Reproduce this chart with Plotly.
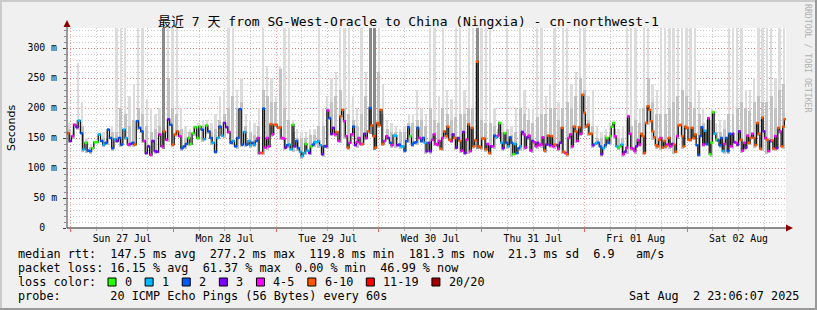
import numpy as np
import pandas as pd
import plotly.graph_objects as go

# ---------------- data ----------------
START = "2025-07-26 23:06:07"
END = "2025-08-02 23:06:07"
# the week is read in four consecutive stretches
SEG_BOUNDS = ["2025-07-26 23:06:07", "2025-07-28 17:24:00",
              "2025-07-30 11:27:00", "2025-08-01 05:30:00", "2025-08-02 23:06:07"]

MEDIAN_A = [158, 145, 153, 172, 168, 179, 158, 131, 142, 129,
            128, 133, 143, 143, 156, 145, 139, 142, 164, 150,
            133, 148, 145, 150, 139, 164, 150, 139, 140, 142,
            139, 178, 167, 161, 145, 125, 136, 122, 145, 128,
            127, 156, 136, 161, 147, 181, 172, 139, 156, 161,
            153, 133, 136, 140, 150, 140, 158, 168, 150, 169,
            164, 148, 171, 161, 150, 142, 127, 150, 169, 154,
            175, 168, 160, 142, 145, 136, 150, 198, 139, 160,
            139]
LOSS_A = "opmmpcbcgb" "bgggcbcbbb" "bcpbbccmpb" "obbbmppmpp" "pmmompbooo" \
         "mbbbgggggg" "bcgbbcbcbc" "ppmbcbbbbc" "b"

MEDIAN_B = [145, 138, 142, 139, 145, 150, 125, 125, 199, 134,
            150, 136, 173, 156, 172, 172, 167, 168, 150, 149,
            134, 138, 139, 131, 172, 136, 145, 133, 127, 119.8,
            125, 140, 129, 125, 136, 139, 143, 143, 145, 138,
            123, 136, 136, 196, 183, 157, 167, 156, 160, 145,
            186, 197, 178, 153, 134, 142, 156, 169, 138, 143,
            150, 140, 140, 157, 150, 161, 200, 171, 153, 134,
            175, 171, 197, 140, 145, 153, 150, 142, 138, 154,
            154, 138, 139, 136, 136, 129, 145, 168, 153, 139,
            142, 143, 167, 150, 145, 150, 142, 128]
LOSS_B = "ccbcbmmobm" "mmomoooomm" "pbccgpbbcc" "cgcpgbcccc" "pbpmbppmom" \
         "oommommbpm" "mmopmobooo" "oooommpbmc" "cpbccbbbgb" "bbbmbbcp"

MEDIAN_C = [142, 128, 147, 156, 140, 139, 145, 132, 150, 161,
            153, 169, 147, 145, 156, 150, 134, 150, 145, 129,
            160, 125, 147, 173, 128, 167, 136, 146, 277.2, 136,
            134, 149, 149, 131, 140, 125, 136, 136, 154, 151,
            154, 175, 142, 133, 158, 142, 136, 151, 142, 123,
            140, 125, 133, 136, 160, 156, 134, 151, 154, 129,
            145, 143, 136, 142, 138, 139, 151, 129, 139, 154,
            138, 153, 136, 139, 138, 132, 142, 167, 127, 125,
            123, 150, 156, 136, 169, 161, 145, 168, 157, 222,
            192, 169, 172, 157, 157, 138, 140, 142, 142, 136,
            123, 133, 138, 150]
LOSS_C = "ppmmmmmomo" "ooompoppom" "ppmomooooo" "oooomopmbc" "mgcpgbcbbg" \
         "cbbcpmmpmm" "pmmpmmmopo" "pomopmpoom" "ommmoomomo" "ooooopccbb" "pcbg"

MEDIAN_D = [142, 153, 169, 175, 153, 136, 134, 136, 139, 123,
            127, 134, 186, 157, 133, 132, 128, 136, 146, 139,
            157, 153, 125, 175, 203, 197, 178, 161, 151, 138,
            136, 147, 150, 134, 145, 136, 139, 150, 136, 140,
            139, 127, 153, 171, 172, 153, 136, 169, 167, 147,
            147, 167, 150, 156, 138, 122, 153, 168, 139, 162,
            140, 183, 123, 142, 193, 157, 147, 146, 138, 150,
            128, 140, 150, 128, 157, 136, 157, 143, 142, 139,
            161, 147, 129, 142, 134, 154, 142, 150, 157, 150,
            138, 175, 157, 132, 184, 161, 150, 147, 128, 145,
            146, 132, 153, 133, 167, 161, 136, 169, 181.3]
LOSS_D = "bgggmcggcm" "pmmmmmmpmm" "oooooooooo" "oomooomomp" "oomooooooo" \
         "oooobbbbmc" "bmgggcgbbb" "cmbbbmppmp" "pommpmoomo" "ooooopmomp" "oompomooo"

# smoke: hourly upper extent of the light smoke and of the darker smoke (ms)
SMOKE_HI_A = [175, 175, 275, 210, 150, 140, 140, 150, 160, 155, 170, 340, 340, 340, 220, 240, 340, 340, 215, 200, 190,
              200, 340, 340, 340, 340, 200, 170, 165, 170, 175, 180, 180, 175, 190, 220, 230, 340, 340, 230, 250, 190]
SMOKE_MID_A = [165, 160, 180, 170, 145, 135, 135, 145, 150, 150, 160, 160, 200, 190, 170, 180, 200, 190, 170, 160, 165,
               170, 340, 250, 200, 190, 165, 150, 160, 160, 165, 170, 170, 160, 165, 180, 190, 200, 220, 200, 210, 170]
SMOKE_HI_B = [180, 175, 200, 340, 270, 250, 220, 270, 340, 340, 180, 165, 160, 160, 165, 165, 340, 200, 220, 250, 260,
              340, 340, 340, 220, 200, 340, 260, 340, 340, 340, 240, 180, 175, 170, 165, 170, 190, 190, 230, 200, 190]
SMOKE_MID_B = [160, 155, 170, 230, 220, 210, 210, 265, 200, 180, 160, 150, 150, 150, 155, 155, 170, 170, 200, 210, 220,
               230, 200, 190, 180, 170, 190, 220, 340, 340, 260, 190, 165, 160, 160, 160, 160, 175, 175, 180, 180, 170]
SMOKE_HI_C = [340, 340, 220, 340, 230, 215, 340, 340, 230, 340, 340, 340, 340, 340, 340, 200, 180, 175, 340, 170, 200,
              340, 230, 200, 200, 340, 340, 220, 240, 340, 210, 340, 340, 240, 260, 340, 340, 220, 230, 170, 160, 165]
SMOKE_MID_C = [200, 180, 175, 200, 190, 180, 185, 190, 190, 200, 200, 340, 180, 175, 175, 170, 165, 160, 165, 155, 160,
               200, 190, 180, 175, 185, 190, 190, 200, 200, 180, 200, 210, 200, 220, 250, 230, 180, 170, 150, 150, 155]
SMOKE_HI_D = [175, 180, 165, 170, 340, 340, 340, 200, 340, 340, 240, 230, 340, 340, 340, 340, 340, 340, 340, 340, 340,
              230, 200, 180, 200, 175, 180, 180, 340, 340, 340, 340, 230, 230, 250, 340, 340, 340, 340, 250, 340, 340]
SMOKE_MID_D = [160, 165, 150, 150, 180, 170, 180, 175, 200, 250, 210, 190, 190, 190, 200, 210, 220, 230, 220, 210, 200,
               190, 175, 165, 180, 160, 160, 165, 190, 190, 200, 210, 200, 195, 210, 220, 210, 210, 220, 200, 230, 240]

LOSS_COLORS = {"g": "#26ff00", "c": "#00b8ff", "b": "#0059ff", "p": "#7e00ff",
               "m": "#ff00ff", "o": "#ff5500", "r": "#ff0000", "d": "#a10000"}
LEGEND_ITEMS = [("0", "g"), ("1", "c"), ("2", "b"), ("3", "p"), ("4-5", "m"),
                ("6-10", "o"), ("11-19", "r"), ("20/20", "d")]

Y_TICKS = [0, 50, 100, 150, 200, 250, 300]
Y_TICKTEXT = ["0\u00a0\u00a0", "50 m", "100 m", "150 m", "200 m", "250 m", "300 m"]
Y_MAX = 333.33

TITLE = "最近 7 天 from SG-West-Oracle to China (Ningxia) - cn-northwest-1"
LEGEND_LINES = [
    "median rtt:  147.5 ms avg  277.2 ms max  119.8 ms min  181.3 ms now  21.3 ms sd  6.9   am/s",
    "packet loss: 16.15 % avg  61.37 % max  0.00 % min  46.99 % now",
    "loss color:",
    "probe:       20 ICMP Echo Pings (56 Bytes) every 60s",
]
STAMP = "Sat Aug  2 23:06:07 2025"
SIDE_TEXT = "RRDTOOL / TOBI OETIKER"

# ---------------- geometry helpers ----------------
W, H = 817, 310
PL, PR, PT, PB = 67, 786, 28, 228


def px(x):
    return (x - PL) / (PR - PL)


def py(y):
    return (PB - y) / (PB - PT)


def nb(s):
    return s.replace(" ", "\u00a0")


MONO = "DejaVu Sans Mono, Noto Sans CJK SC, monospace"

segments = [
    (MEDIAN_A, LOSS_A, SMOKE_HI_A, SMOKE_MID_A),
    (MEDIAN_B, LOSS_B, SMOKE_HI_B, SMOKE_MID_B),
    (MEDIAN_C, LOSS_C, SMOKE_HI_C, SMOKE_MID_C),
    (MEDIAN_D, LOSS_D, SMOKE_HI_D, SMOKE_MID_D),
]

t_all, y_all, c_all, mid_t_all = [], [], [], []
bar_x, bar_w, bar_base, bar_hi, bar_mid = [], [], [], [], []
for i, (med, loss, hi, mid) in enumerate(segments):
    t0 = pd.Timestamp(SEG_BOUNDS[i])
    t1 = pd.Timestamp(SEG_BOUNDS[i + 1])
    n = min(len(med), len(loss))
    step = (t1 - t0) / n
    times = [t0 + step * k for k in range(n)]
    t_all += times
    y_all += list(med[:n])
    c_all += list(loss[:n])
    mid_t_all += [t + step / 2 for t in times]
    hstep = (t1 - t0) / len(hi)
    for k in range(len(hi)):
        a = t0 + hstep * k
        b = a + hstep
        vals = [v for t, v in zip(times, med) if a <= t + step / 2 < b]
        if not vals:
            j = int(np.argmin([abs((t - a).total_seconds()) for t in times]))
            vals = [med[j]]
        base = min(vals) - 4
        bar_x.append(a + hstep / 2)
        bar_w.append(hstep.total_seconds() * 1000)
        bar_base.append(base)
        bar_hi.append(max(hi[k] - base, 0))
        bar_mid.append(max(mid[k] - base, 0))

fig = go.Figure()

# light smoke
fig.add_trace(go.Bar(x=bar_x, y=bar_hi, base=bar_base, width=[w * 0.55 for w in bar_w],
                     marker=dict(color="#dcdcdc", line=dict(width=0)), hoverinfo="skip"))
# darker smoke
mid_cols = ["#8a8a8a" if (b + m) >= 300 else "#c2c2c2" for b, m in zip(bar_base, bar_mid)]
fig.add_trace(go.Bar(x=bar_x, y=bar_mid, base=bar_base, width=[w * 0.7 for w in bar_w],
                     marker=dict(color=mid_cols, line=dict(width=0)), hoverinfo="skip"))

# median line (step)
fig.add_trace(go.Scatter(x=t_all + [pd.Timestamp(END)], y=y_all + [y_all[-1]],
                         mode="lines", line=dict(color="#141414", width=1.3, shape="hv"),
                         hoverinfo="skip"))

# loss-coloured median marks
for code, col in LOSS_COLORS.items():
    xs = [t for t, c in zip(mid_t_all, c_all) if c == code]
    ys = [v for v, c in zip(y_all, c_all) if c == code]
    if xs:
        fig.add_trace(go.Scatter(x=xs, y=ys, mode="markers",
                                 marker=dict(symbol="square", size=2.6, color=col, line=dict(width=0)),
                                 hoverinfo="skip"))

# invisible trace for day-label axis
fig.add_trace(go.Scatter(x=[START, END], y=[None, None], xaxis="x2", mode="lines", hoverinfo="skip"))

major_grid = "rgba(255,0,0,0.38)"
minor_grid = "rgba(150,150,150,0.5)"

fig.update_layout(
    width=W, height=H,
    margin=dict(l=PL, r=W - PR, t=PT, b=H - PB, pad=0),
    paper_bgcolor="#f0f0f0", plot_bgcolor="#ffffff",
    showlegend=False, barmode="overlay", bargap=0,
    font=dict(family=MONO, size=9.8, color="#000000"),
    xaxis=dict(
        type="date", range=[START, END], showticklabels=False,
        showgrid=True, gridcolor=major_grid, griddash="1px,2px", gridwidth=1,
        tick0="2025-07-27 00:00:00", dtick=86400000,
        ticks="outside", ticklen=3, tickcolor="rgba(255,0,0,0.6)",
        minor=dict(dtick=21600000, tick0="2025-07-27 00:00:00", showgrid=True,
                   gridcolor=minor_grid, griddash="1px,2px", gridwidth=1,
                   ticks="outside", ticklen=2, tickcolor="#b0b0b0"),
        showline=False, zeroline=False, fixedrange=True,
    ),
    xaxis2=dict(
        type="date", range=[START, END], overlaying="x", anchor="y", side="bottom",
        tick0="2025-07-27 12:00:00", dtick=86400000, tickformat="%a %d %b",
        showgrid=False, ticks="", showline=False, zeroline=False,
        tickfont=dict(family=MONO, size=9.8, color="#000000"), ticklabelstandoff=3,
    ),
    yaxis=dict(
        range=[0, Y_MAX], tickvals=Y_TICKS, ticktext=Y_TICKTEXT,
        showgrid=True, gridcolor=major_grid, griddash="1px,2px", gridwidth=1,
        ticks="outside", ticklen=3, tickcolor="#404040", ticklabelstandoff=4,
        minor=dict(dtick=10, tick0=0, showgrid=True, gridcolor=minor_grid,
                   griddash="1px,2px", gridwidth=1, ticks="outside", ticklen=2, tickcolor="#909090"),
        tickfont=dict(family=MONO, size=9.8, color="#000000"),
        showline=False, zeroline=False, fixedrange=True,
    ),
)

shapes = []
# frame (rrdtool style shading)
shapes.append(dict(type="rect", xref="paper", yref="paper", x0=px(0), x1=px(W), y0=py(0), y1=py(2),
                   fillcolor="#cbcbcb", line=dict(width=0), layer="below"))
shapes.append(dict(type="rect", xref="paper", yref="paper", x0=px(0), x1=px(2), y0=py(0), y1=py(H),
                   fillcolor="#cbcbcb", line=dict(width=0), layer="below"))
shapes.append(dict(type="rect", xref="paper", yref="paper", x0=px(0), x1=px(W), y0=py(H - 2), y1=py(H),
                   fillcolor="#999999", line=dict(width=0), layer="below"))
shapes.append(dict(type="rect", xref="paper", yref="paper", x0=px(W - 2), x1=px(W), y0=py(0), y1=py(H),
                   fillcolor="#999999", line=dict(width=0), layer="below"))
# axis lines with arrows
shapes.append(dict(type="line", xref="paper", yref="paper", x0=px(67), x1=px(67), y0=py(228), y1=py(24),
                   line=dict(color="#404040", width=1), layer="above"))
shapes.append(dict(type="line", xref="paper", yref="paper", x0=px(67), x1=px(789), y0=py(228), y1=py(228),
                   line=dict(color="#202020", width=1), layer="above"))
shapes.append(dict(type="path", xref="paper", yref="paper",
                   path=f"M {px(63.5)},{py(27)} L {px(70.5)},{py(27)} L {px(67)},{py(20)} Z",
                   fillcolor="#8b0000", line=dict(width=0), layer="above"))
shapes.append(dict(type="path", xref="paper", yref="paper",
                   path=f"M {px(786)},{py(224.5)} L {px(786)},{py(231.5)} L {px(793)},{py(228)} Z",
                   fillcolor="#8b0000", line=dict(width=0), layer="above"))

annotations = []
annotations.append(dict(text=TITLE, xref="paper", yref="paper", x=px(408), y=py(21),
                        xanchor="center", yanchor="middle", showarrow=False,
                        font=dict(family=MONO, size=13, color="#000000")))
annotations.append(dict(text="Seconds", xref="paper", yref="paper", x=px(11), y=py(128),
                        xanchor="center", yanchor="middle", showarrow=False, textangle=-90,
                        font=dict(family="DejaVu Sans", size=11, color="#000000")))
annotations.append(dict(text=SIDE_TEXT, xref="paper", yref="paper", x=px(808), y=py(58),
                        xanchor="center", yanchor="middle", showarrow=False, textangle=90,
                        font=dict(family=MONO, size=8.2, color="#b0b0b0")))

LEG_FONT = 11.8
CHAR_W = 7.12
for k, line in enumerate(LEGEND_LINES):
    annotations.append(dict(text=nb(line), xref="paper", yref="paper", x=px(16), y=py(254 + 14 * k),
                            xanchor="left", yanchor="middle", showarrow=False,
                            font=dict(family=MONO, size=LEG_FONT, color="#000000")))
annotations.append(dict(text=nb(STAMP), xref="paper", yref="paper", x=px(801), y=py(296),
                        xanchor="right", yanchor="middle", showarrow=False,
                        font=dict(family=MONO, size=LEG_FONT, color="#000000")))

# loss colour legend boxes
bx = 108.0
for label, code in LEGEND_ITEMS:
    shapes.append(dict(type="rect", xref="paper", yref="paper", x0=px(bx), x1=px(bx + 8),
                       y0=py(278), y1=py(286), fillcolor=LOSS_COLORS[code],
                       line=dict(color="#000000", width=1), layer="above"))
    lx = bx + 15
    annotations.append(dict(text=nb(label), xref="paper", yref="paper", x=px(lx), y=py(282),
                            xanchor="left", yanchor="middle", showarrow=False,
                            font=dict(family=MONO, size=LEG_FONT, color="#000000")))
    bx = lx + len(label) * CHAR_W + 15

fig.update_layout(shapes=shapes, annotations=annotations)

fig.write_html("out.html")
